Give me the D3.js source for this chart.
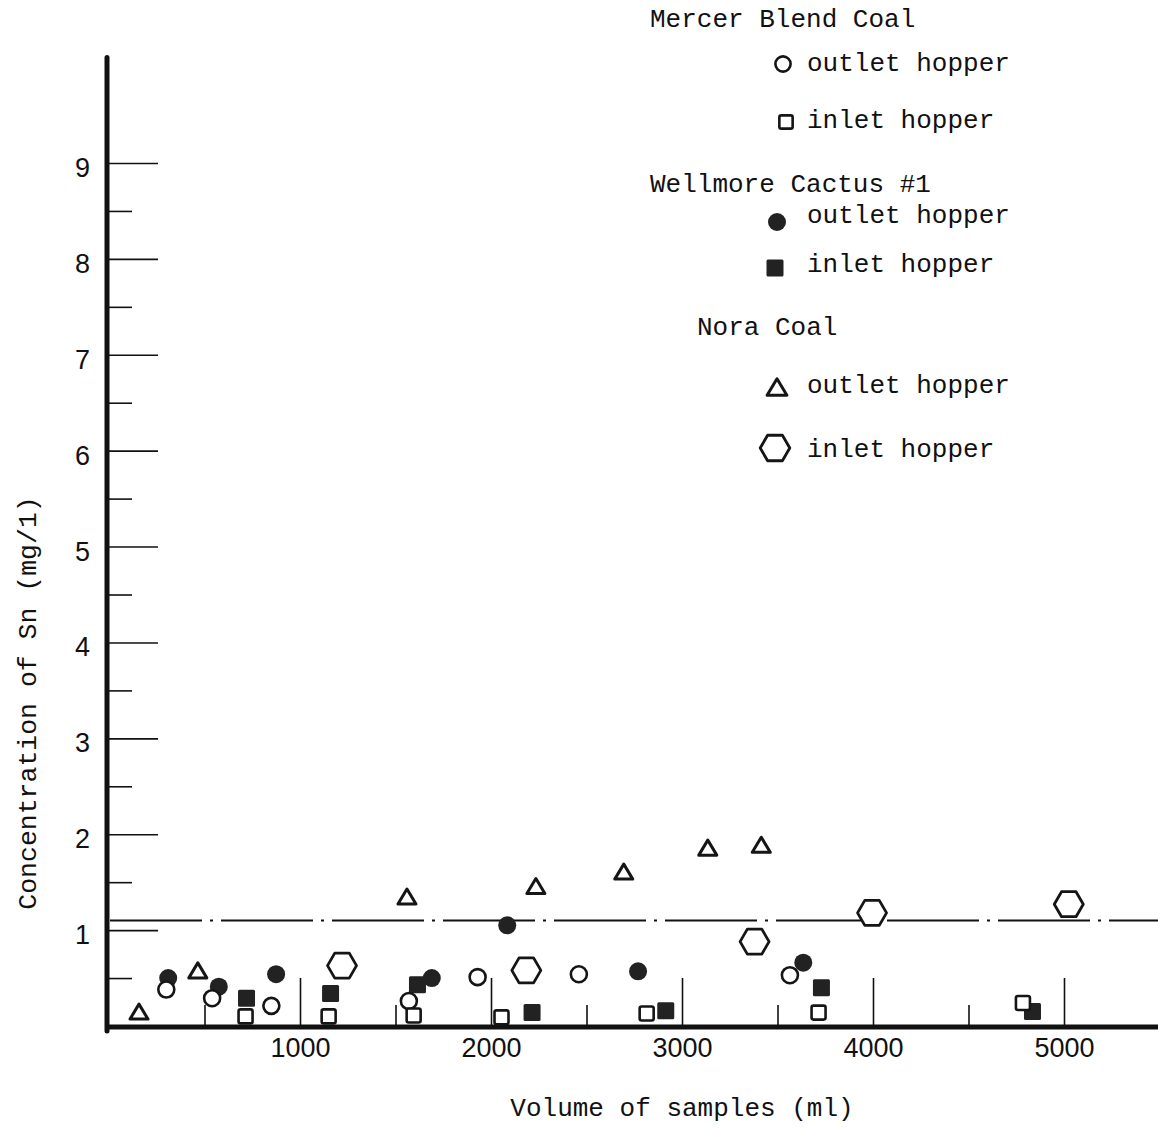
<!DOCTYPE html>
<html>
<head>
    <meta charset="utf-8">
    <title>Concentration of Sn vs volume of samples</title>
    <script src="https://d3js.org/d3.v7.min.js"></script>
</head>
<style>
    body {
        margin: 0;
        background: #fff;
    }

    .mono {
        font-family: "Liberation Mono", "DejaVu Sans Mono", monospace;
        fill: #111;
    }

    .tick text {
        font-family: "Liberation Sans", Arial, sans-serif;
        font-size: 27px;
        fill: #111;
    }

    .tick line {
        stroke: #111;
        stroke-width: 1.6;
    }
</style>
<body>
    <svg class='chart'></svg>
</body>
<script>
    // values: [volume (ml), Sn (mg/l)]
    var mercerOutlet = [[300, 0.38], [540, 0.29], [850, 0.21], [1570, 0.26], [1930, 0.51], [2460, 0.54], [3565, 0.53]]
    var mercerInlet = [[715, 0.10], [1150, 0.10], [1595, 0.11], [2055, 0.09], [2815, 0.13], [3715, 0.14], [4785, 0.24]]
    var wellmoreOutlet = [[310, 0.50], [575, 0.41], [875, 0.54], [1690, 0.50], [2085, 1.05], [2770, 0.57], [3635, 0.66]]
    var wellmoreInlet = [[720, 0.29], [1160, 0.34], [1615, 0.43], [2215, 0.14], [2915, 0.16], [3730, 0.40], [4835, 0.15]]
    var noraOutlet = [[157, 0.15], [465, 0.58], [1560, 1.35], [2235, 1.46], [2695, 1.61], [3135, 1.86], [3415, 1.89]]
    var noraInlet = [[1220, 0.63], [2185, 0.58], [3380, 0.88], [3995, 1.18], [5025, 1.27]]

    var limitValue = 1.1

    var yMajor = [1, 2, 3, 4, 5, 6, 7, 8, 9]
    var yMinor = [0.5, 1.5, 2.5, 3.5, 4.5, 5.5, 6.5, 7.5, 8.5]
    var xMajor = [1000, 2000, 3000, 4000, 5000]
    var xMinor = [500, 1500, 2500, 3500, 4500]

    var width = 1158
    var height = 1130

    var svg = d3.select('.chart')
        .attr('width', width)
        .attr('height', height)

    var x = d3.scaleLinear().domain([0, 5000]).range([109, 1064])
    var y = d3.scaleLinear().domain([0, 9]).range([1026, 163])

    // tick marks point into the plot
    svg.append('g')
        .attr('transform', 'translate(108,0)')
        .call(d3.axisLeft(y).tickValues(yMajor).tickSizeInner(-50).tickSizeOuter(0).tickPadding(18))
        .call(g => g.select('.domain').remove())
        .call(g => g.selectAll('text').attr('dy', '0.5em').attr('x', -18))

    svg.append('g')
        .attr('transform', 'translate(108,0)')
        .call(d3.axisLeft(y).tickValues(yMinor).tickSizeInner(-24).tickSizeOuter(0).tickFormat(''))
        .call(g => g.select('.domain').remove())

    svg.append('g')
        .attr('transform', 'translate(0,1026)')
        .call(d3.axisBottom(x).tickValues(xMajor).tickFormat(d3.format('d')).tickSizeInner(-48).tickSizeOuter(0).tickPadding(12))
        .call(g => g.select('.domain').remove())

    svg.append('g')
        .attr('transform', 'translate(0,1026)')
        .call(d3.axisBottom(x).tickValues(xMinor).tickSizeInner(-21).tickSizeOuter(0).tickFormat(''))
        .call(g => g.select('.domain').remove())

    // heavy axis lines
    svg.append('line')
        .attr('x1', 107).attr('x2', 107)
        .attr('y1', y(10.1)).attr('y2', 1031)
        .attr('stroke', '#111').attr('stroke-width', 5).attr('stroke-linecap', 'round')
    svg.append('line')
        .attr('x1', 105).attr('x2', width)
        .attr('y1', 1027).attr('y2', 1027)
        .attr('stroke', '#111').attr('stroke-width', 5)

    // dash-dot limit line
    svg.append('line')
        .attr('x1', 110).attr('x2', width)
        .attr('y1', y(limitValue)).attr('y2', y(limitValue))
        .attr('stroke', '#111').attr('stroke-width', 1.8)
        .attr('stroke-dasharray', '92 8 3 8')

    // marker drawing
    function hexPath(w, h) {
        var a = w / 2, b = h / 2
        return 'M' + (-a) + ',0L' + (-a / 2) + ',' + (-b) + 'L' + (a / 2) + ',' + (-b) +
            'L' + a + ',0L' + (a / 2) + ',' + b + 'L' + (-a / 2) + ',' + b + 'Z'
    }

    function triPath(w, h) {
        return 'M0,' + (-h / 2) + 'L' + (w / 2) + ',' + (h / 2) + 'L' + (-w / 2) + ',' + (h / 2) + 'Z'
    }

    function drawMarker(g, type, s) {
        s = s || 1
        var ink = '#151515'
        if (type == 'openCircle') {
            g.append('circle').attr('r', 8 * s).attr('fill', '#fff').attr('stroke', ink).attr('stroke-width', 2.6)
        } else if (type == 'filledCircle') {
            g.append('circle').attr('r', 9 * s).attr('fill', '#222')
        } else if (type == 'openSquare') {
            g.append('rect').attr('x', -7 * s).attr('y', -7 * s).attr('width', 14 * s).attr('height', 14 * s)
                .attr('rx', 2).attr('fill', '#fff').attr('stroke', ink).attr('stroke-width', 2.6)
        } else if (type == 'filledSquare') {
            g.append('rect').attr('x', -8.5 * s).attr('y', -8.5 * s).attr('width', 17 * s).attr('height', 17 * s)
                .attr('rx', 1.5).attr('fill', '#222')
        } else if (type == 'triangle') {
            g.append('path').attr('d', triPath(18 * s, 15 * s)).attr('fill', '#fff')
                .attr('stroke', ink).attr('stroke-width', 3).attr('stroke-linejoin', 'round')
        } else if (type == 'hexagon') {
            g.append('path').attr('d', hexPath(29 * s, 25 * s)).attr('fill', '#fff')
                .attr('stroke', ink).attr('stroke-width', 2.8).attr('stroke-linejoin', 'round')
        }
    }

    var seriesList = [
        { data: noraInlet, type: 'hexagon' },
        { data: wellmoreOutlet, type: 'filledCircle' },
        { data: wellmoreInlet, type: 'filledSquare' },
        { data: noraOutlet, type: 'triangle' },
        { data: mercerOutlet, type: 'openCircle' },
        { data: mercerInlet, type: 'openSquare' }
    ]

    seriesList.forEach(function(s) {
        svg.append('g').selectAll('g')
            .data(s.data)
            .enter()
            .append('g')
            .attr('transform', d => 'translate(' + x(d[0]) + ',' + y(d[1]) + ')')
            .each(function() { drawMarker(d3.select(this), s.type) })
    })

    // legend
    var legendTitles = [
        { text: 'Mercer Blend Coal', x: 650, y: 27 },
        { text: 'Wellmore Cactus #1', x: 650, y: 192 },
        { text: 'Nora Coal', x: 697, y: 335 }
    ]
    var legendItems = [
        { text: 'outlet hopper', type: 'openCircle', sx: 783, sy: 64, ty: 71, s: 0.95 },
        { text: 'inlet hopper', type: 'openSquare', sx: 786, sy: 122, ty: 128, s: 0.95 },
        { text: 'outlet hopper', type: 'filledCircle', sx: 777, sy: 222, ty: 223, s: 1 },
        { text: 'inlet hopper', type: 'filledSquare', sx: 775, sy: 268, ty: 272, s: 1 },
        { text: 'outlet hopper', type: 'triangle', sx: 777, sy: 387, ty: 393, s: 1.1 },
        { text: 'inlet hopper', type: 'hexagon', sx: 775, sy: 448, ty: 457, s: 1.02 }
    ]

    svg.selectAll('.legTitle')
        .data(legendTitles)
        .enter()
        .append('text')
        .attr('class', 'mono legTitle')
        .attr('x', d => d.x)
        .attr('y', d => d.y)
        .attr('font-size', 26)
        .text(d => d.text)

    legendItems.forEach(function(d) {
        var g = svg.append('g').attr('transform', 'translate(' + d.sx + ',' + d.sy + ')')
        drawMarker(g, d.type, d.s)
        svg.append('text')
            .attr('class', 'mono')
            .attr('x', 807)
            .attr('y', d.ty)
            .attr('font-size', 26)
            .text(d.text)
    })

    // axis titles
    svg.append('text')
        .attr('class', 'mono')
        .attr('transform', 'translate(36,703) rotate(-90)')
        .attr('text-anchor', 'middle')
        .attr('font-size', 26.5)
        .text('Concentration of Sn (mg/1)')

    svg.append('text')
        .attr('class', 'mono')
        .attr('x', 682)
        .attr('y', 1116)
        .attr('text-anchor', 'middle')
        .attr('font-size', 26)
        .text('Volume of samples (ml)')
</script>
</html>
